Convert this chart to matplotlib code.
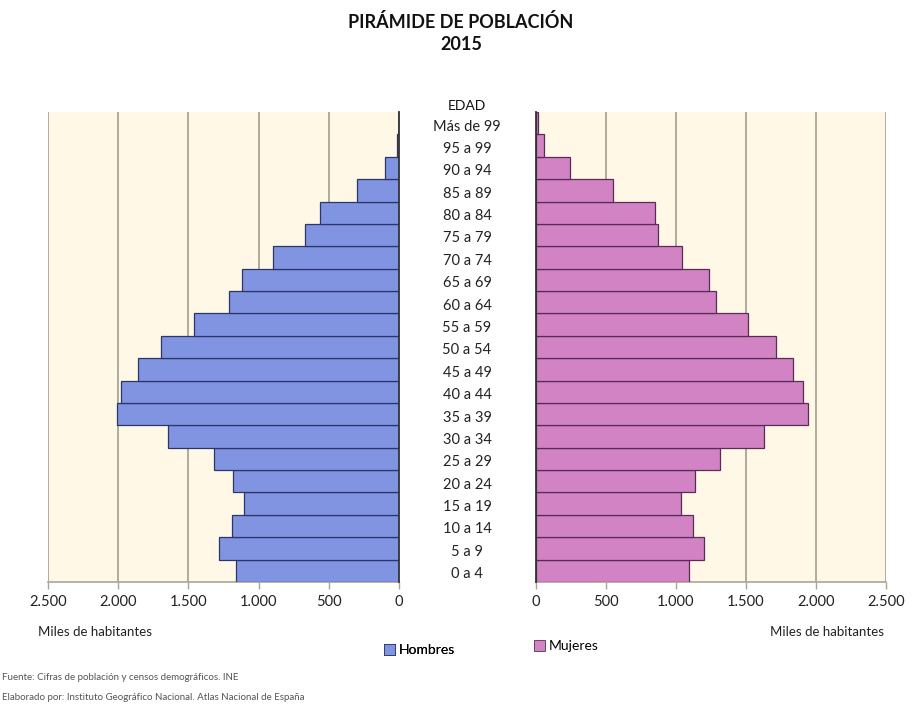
import matplotlib
matplotlib.use("Agg")
import matplotlib.pyplot as plt
import matplotlib.transforms as mtransforms
from matplotlib.patches import Patch
from matplotlib.ticker import FuncFormatter

plt.rcParams['font.family'] = ['Lato', 'DejaVu Sans']

# ---- data (miles de habitantes) ----
age_groups = ["0 a 4", "5 a 9", "10 a 14", "15 a 19", "20 a 24", "25 a 29",
              "30 a 34", "35 a 39", "40 a 44", "45 a 49", "50 a 54", "55 a 59",
              "60 a 64", "65 a 69", "70 a 74", "75 a 79", "80 a 84", "85 a 89",
              "90 a 94", "95 a 99", "Más de 99"]
hombres = [1160, 1281, 1186, 1102, 1179, 1316, 1643, 2011, 1981, 1861, 1697,
           1459, 1214, 1119, 897, 666, 564, 297, 100, 15, 3]
mujeres = [1093, 1200, 1122, 1039, 1134, 1317, 1632, 1940, 1910, 1834, 1715,
           1513, 1288, 1236, 1046, 873, 849, 550, 244, 59, 12]
x_ticks = [0, 500, 1000, 1500, 2000, 2500]

title = "PIRÁMIDE DE POBLACIÓN\n2015"
axis_label = "Miles de habitantes"
source1 = "Fuente: Cifras de población y censos demográficos. INE"
source2 = "Elaborado por: Instituto Geográfico Nacional. Atlas Nacional de España"

# ---- styles ----
c_h = "#8094e2"
c_m = "#d283c4"
bg = "#fff8e7"
grid_c = "#a9a596"
edge_h = "#2c3566"
edge_m = "#5a2c55"

W, H = 919, 705
fig = plt.figure(figsize=(W / 100, H / 100), dpi=100)

def frac(x0, y0, x1, y1):
    return [x0 / W, 1 - y1 / H, (x1 - x0) / W, (y1 - y0) / H]

axL = fig.add_axes(frac(48, 112, 399, 582))
axR = fig.add_axes(frac(536, 112, 886, 582))

fmt = FuncFormatter(lambda v, p: f"{int(v):,}".replace(",", "."))
ypos = list(range(len(age_groups)))

for ax, vals, col, ec in ((axL, hombres, c_h, edge_h), (axR, mujeres, c_m, edge_m)):
    ax.set_facecolor(bg)
    ax.barh(ypos, vals, height=1.0, color=col, edgecolor=ec, linewidth=0.9, zorder=3)
    ax.set_ylim(-0.5, len(age_groups) - 0.5)
    ax.set_xticks(x_ticks)
    ax.xaxis.set_major_formatter(fmt)
    ax.set_yticks([])
    ax.grid(axis='x', color=grid_c, linewidth=1.3, zorder=1)
    for s in ax.spines.values():
        s.set_visible(False)
    ax.spines['bottom'].set_visible(True)
    ax.spines['bottom'].set_color(grid_c)
    ax.spines['bottom'].set_linewidth(1.2)
    ax.tick_params(axis='x', colors='#222222', length=5, width=1, color=grid_c,
                   labelsize=10.5, pad=4)

axL.set_xlim(2500, 0)
axR.set_xlim(0, 2500)
axL.spines['right'].set_visible(True)
axL.spines['right'].set_color('#333333')
axL.spines['right'].set_linewidth(1.3)
axL.spines['right'].set_zorder(5)
axR.spines['left'].set_visible(True)
axR.spines['left'].set_color('#333333')
axR.spines['left'].set_linewidth(1.3)
axR.spines['left'].set_zorder(5)

# age labels in the middle
trans = mtransforms.blended_transform_factory(fig.transFigure, axL.transData)
xc = 467 / W
for y, lab in zip(ypos, age_groups):
    fig.text(xc, y - 0.15, lab, transform=trans, ha='center', va='center',
             fontsize=10.5, color='#222222')
fig.text(xc, len(age_groups) - 0.5, "EDAD", transform=trans, ha='center',
         va='bottom', fontsize=10, color='#111111')

# titles
fig.text(461 / W, 1 - 22 / H, "PIRÁMIDE DE POBLACIÓN", ha='center', va='center',
         fontsize=13, fontweight='bold', color='#111111')
fig.text(461 / W, 1 - 45 / H, "2015", ha='center', va='center',
         fontsize=13, fontweight='bold', color='#111111')

fig.text(38 / W, 1 - 632 / H, axis_label, ha='left', va='center', fontsize=9.5,
         color='#222222')
fig.text(884 / W, 1 - 632 / H, axis_label, ha='right', va='center', fontsize=9.5,
         color='#222222')

# legends
lh = fig.legend(handles=[Patch(facecolor=c_h, edgecolor=edge_h, linewidth=0.6)],
                labels=["Hombres"], loc='center left',
                bbox_to_anchor=(378 / W, 1 - 650 / H), frameon=False,
                handlelength=0.8, handleheight=0.8, handletextpad=0.3,
                fontsize=10, borderaxespad=0)
fig.add_artist(lh)
fig.legend(handles=[Patch(facecolor=c_m, edgecolor=edge_m, linewidth=0.6)],
           labels=["Mujeres"], loc='center left',
           bbox_to_anchor=(528 / W, 1 - 646 / H), frameon=False,
           handlelength=0.8, handleheight=0.8, handletextpad=0.3,
           fontsize=10, borderaxespad=0)

# sources
fig.text(2 / W, 1 - 678 / H, source1, ha='left', va='center', fontsize=7,
         color='#555555')
fig.text(2 / W, 1 - 698 / H, source2, ha='left', va='center', fontsize=7,
         color='#555555')

fig.savefig("out.png", dpi=100, facecolor='white')
